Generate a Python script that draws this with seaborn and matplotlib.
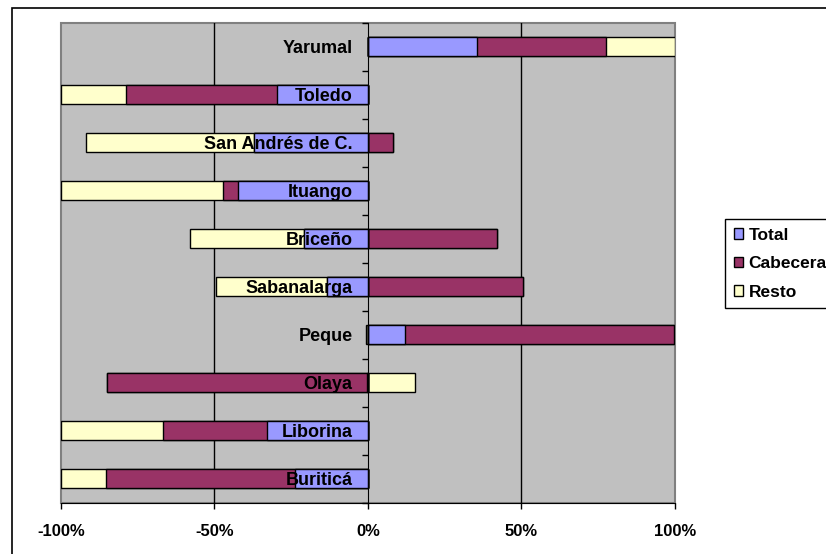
import numpy as np
import pandas as pd
import matplotlib
matplotlib.use('Agg')
import matplotlib.pyplot as plt
from matplotlib.patches import Rectangle, Patch
from matplotlib.ticker import PercentFormatter
import seaborn as sns

municipios = ['Yarumal', 'Toledo', 'San Andrés de C.', 'Ituango', 'Briceño',
              'Sabanalarga', 'Peque', 'Olaya', 'Liborina', 'Buriticá']
total = [35.5, -29.5, -37.1, -42.3, -20.8, -13.2, 12.0, -0.4, -33.0, -23.7]
cabecera = [42.1, -49.2, 8.1, -5.0, 42.2, 50.6, 87.7, -84.5, -33.8, -61.7]
resto = [22.4, -21.3, -54.9, -52.7, -37.1, -36.3, -0.5, 15.2, -33.2, -14.6]

series = ['Total', 'Cabecera', 'Resto']
colores = ['#9999FF', '#993366', '#FFFFCC']
x_ticks = [-100, -50, 0, 50, 100]

plt.rcParams['font.family'] = ['Liberation Sans', 'DejaVu Sans']
plt.rcParams['font.weight'] = 'bold'
plt.rcParams['axes.unicode_minus'] = False

df = pd.DataFrame({'Municipio': municipios, 'Total': total,
                   'Cabecera': cabecera, 'Resto': resto})

# stacked like Excel: positives to the right, negatives to the left
pos = df[series].clip(lower=0).cumsum(axis=1)
neg = df[series].clip(upper=0).cumsum(axis=1)

fig = plt.figure(figsize=(8.26, 5.54), dpi=100)
ax = fig.add_axes([0.0738, 0.0926, 0.7433, 0.8664])
ax.set_facecolor('#C0C0C0')
ax.patch.set_edgecolor('#808080')
ax.patch.set_linewidth(1.5)

for v in [-50, 50]:
    ax.axvline(v, color='black', lw=1, zorder=0.5)

# draw from the outer end inwards so each segment covers the previous one
for s, c in reversed(list(zip(series, colores))):
    for ends in (pos, neg):
        sns.barplot(x=ends[s].values, y=df['Municipio'], order=municipios,
                    orient='h', color=c, saturation=1, width=0.4,
                    edgecolor='black', linewidth=1, errorbar=None, ax=ax)

ax.set_xlim(-100, 100)
ax.set_ylim(9.5, -0.5)
ax.set_xlabel('')
ax.set_ylabel('')

ax.set_xticks(x_ticks)
ax.xaxis.set_major_formatter(PercentFormatter(xmax=100, decimals=0))
ax.tick_params(axis='x', length=4, width=1, pad=11, labelsize=12, direction='out')

ax.spines['left'].set_position(('data', 0))
ax.spines['left'].set_zorder(3)
for sp in ['top', 'right']:
    ax.spines[sp].set_visible(False)
ax.spines['bottom'].set_color('black')

ax.set_yticks(np.arange(-0.5, 10, 1), minor=True)
ax.tick_params(axis='y', which='major', length=0, pad=11, labelsize=13)
ax.tick_params(axis='y', which='minor', length=4, width=1, direction='out')
for lab in ax.get_yticklabels() + ax.get_xticklabels():
    lab.set_fontweight('bold')

handles = [Patch(facecolor=c, edgecolor='black', label=s) for s, c in zip(series, colores)]
fig.legend(handles=handles, loc='upper left', bbox_to_anchor=(725 / 826, 1 - 219 / 554),
           borderaxespad=0, frameon=True, fancybox=False, framealpha=1,
           edgecolor='black', handlelength=0.55, handleheight=0.55,
           handletextpad=0.3, labelspacing=0.78, borderpad=0.5,
           prop={'weight': 'bold', 'size': 12.5})

fig.patches.append(Rectangle((0.0142, -0.02), 1.0, 1.0056, transform=fig.transFigure,
                             fill=False, edgecolor='black', linewidth=1.2))

fig.savefig('out.png', dpi=100)
